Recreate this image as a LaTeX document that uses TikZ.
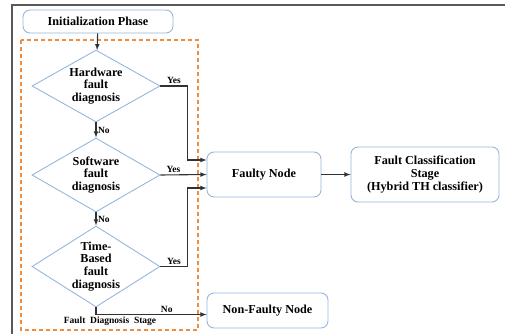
\documentclass[tikz,border=0pt]{standalone}
\usepackage{fontspec}
\setmainfont{Liberation Serif}
\usetikzlibrary{arrows.meta,shapes.geometric}
\definecolor{boxblue}{RGB}{150,182,222}
\definecolor{stageorange}{RGB}{240,140,60}
\definecolor{arrowgray}{RGB}{50,50,50}
\tikzset{
  phasebox/.style={draw=boxblue, rounded corners=7, line width=0.9, align=center, font=\bfseries\fontsize{12.2}{13}\selectfont},
  testdiamond/.style={diamond, draw=boxblue, line width=0.9, inner sep=-6pt, align=center, font=\bfseries\fontsize{12.2}{12.8}\selectfont},
  flow/.style={-latex, line width=1.1, draw=arrowgray},
  answer/.style={font=\bfseries\fontsize{9.5}{10}\selectfont, inner sep=1.5}
}

\begin{document}
\begin{tikzpicture}[x=1pt, y=-1pt]
        \useasboundingbox (0,0) rectangle (505,334);
        % outer frame and stage box
        \draw[line width=1.2, gray!70!black] (12,334) -- (12,5) -- (505,5);
        \draw[stageorange, line width=1.1, dash pattern=on 4 off 3] (21,40) rectangle (198,330);
        \node[font=\bfseries\fontsize{9.5}{10}\selectfont](stagelbl) at (110,321.5) {Fault\ \ Diagnosis\ \ Stage};

        \node[phasebox, minimum width=150, minimum height=23](init) at (98,21.5) {Initialization Phase};
        \node[testdiamond, minimum width=128, minimum height=72](hw) at (96,86) {Hardware\\fault\\diagnosis};
        \node[testdiamond, minimum width=128, minimum height=74](sw) at (96,175) {Software\\fault\\diagnosis};
        \node[testdiamond, minimum width=128, minimum height=81](tb) at (96,266.5) {Time-\\Based\\fault\\diagnosis};

        \node[phasebox, minimum width=114, minimum height=45](faulty) at (264,174.5) {Faulty Node};
        \node[phasebox, minimum width=148, minimum height=55](classif) at (425,174.5) {Fault Classification\\Stage\\(Hybrid TH classifier)};
        \node[phasebox, minimum width=121, minimum height=35](nonfaulty) at (267.5,310.5) {Non-Faulty Node};

        \draw[flow] (init) -- (hw);
        \draw[flow] (hw) -- node[answer, right]{No} (sw);
        \draw[flow] (sw) -- node[answer, right]{No} (tb);

        \draw[flow] (hw.east) -| node[answer, above, pos=0.25]{Yes} ([xshift=-19pt, yshift=14.5pt]faulty.west) -- ([yshift=14.5pt]faulty.west);
        \draw[flow] (sw.east) -- node[answer, above, pos=0.28]{Yes} (faulty.west);
        \draw[flow] (tb.east) -| node[answer, above, pos=0.25]{Yes} ([xshift=-19pt, yshift=-13.5pt]faulty.west) -- ([yshift=-13.5pt]faulty.west);
        \draw[flow] (tb.south) |- node[answer, above, pos=0.82]{No} ([yshift=-4pt]nonfaulty.west);

        \draw[flow] (faulty) -- (classif);
\end{tikzpicture}
\end{document}
